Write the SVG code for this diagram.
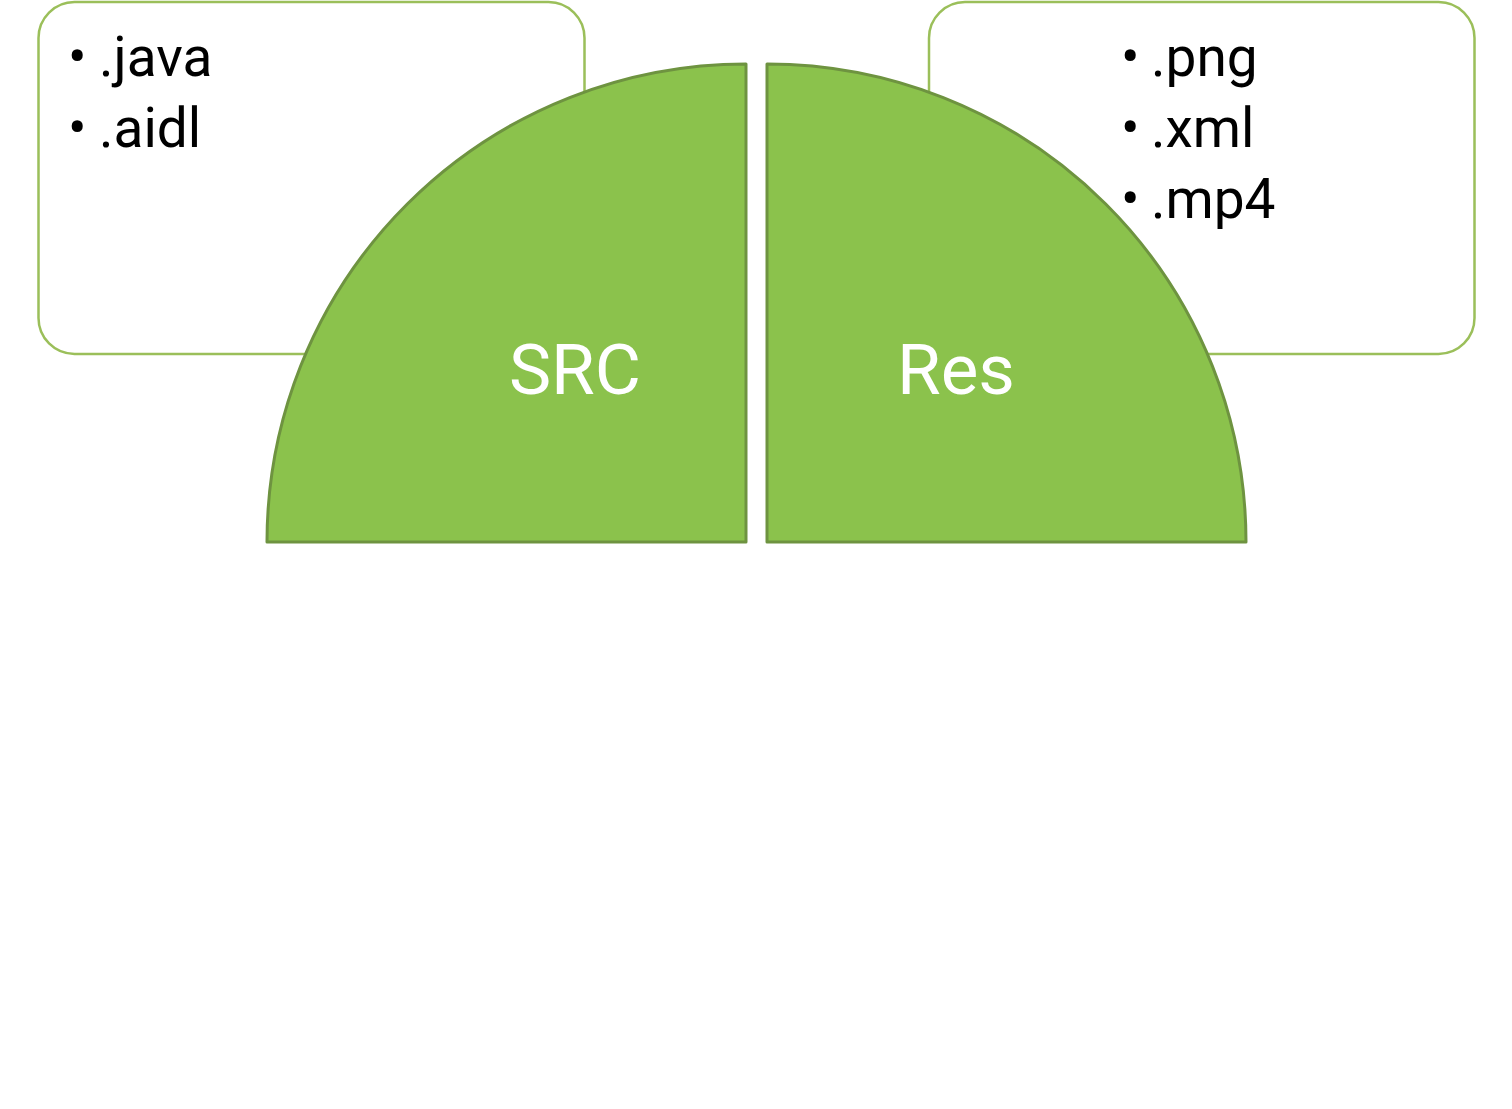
<svg xmlns="http://www.w3.org/2000/svg" width="1512" height="1109" viewBox="0 0 1512 1109">
<style>
.box{fill:#ffffff;stroke:#9bbf5a;stroke-width:2.5}
.quad{fill:#8bc24c;stroke:#6e9340;stroke-width:3;stroke-linejoin:round}
.bl{font-family:Roboto,"Liberation Sans",sans-serif;font-size:55px;fill:#000000}
.lbl{font-family:Roboto,"Liberation Sans",sans-serif;font-size:71px;fill:#ffffff;text-anchor:middle}
</style>
<rect width="1512" height="1109" fill="#ffffff"/>
<g id="src-box">
<rect class="box" x="38.5" y="2" width="546" height="352" rx="36"/>
<text class="bl"><tspan x="68" y="76">•</tspan><tspan x="99" y="76">.java</tspan></text>
<text class="bl"><tspan x="68" y="147">•</tspan><tspan x="99" y="147">.aidl</tspan></text>
</g>
<g id="res-box">
<rect class="box" x="929" y="2" width="545.5" height="352" rx="36"/>
</g>
<g id="src">
<path class="quad" d="M746,64 A479,478 0 0 0 267,542 L746,542 Z"/>
<text class="lbl" x="575" y="394">SRC</text>
</g>
<g id="res">
<path class="quad" d="M767,64 A479,478 0 0 1 1246,542 L767,542 Z"/>
<text class="lbl" x="956" y="394">Res</text>
</g>
<g id="res-text">
<text class="bl"><tspan x="1121" y="76">•</tspan><tspan x="1151" y="76">.png</tspan></text>
<text class="bl"><tspan x="1121" y="147">•</tspan><tspan x="1151" y="147">.xml</tspan></text>
<text class="bl"><tspan x="1121" y="218">•</tspan><tspan x="1151" y="218">.mp4</tspan></text>
</g>
<g id="connectors"></g>
</svg>
